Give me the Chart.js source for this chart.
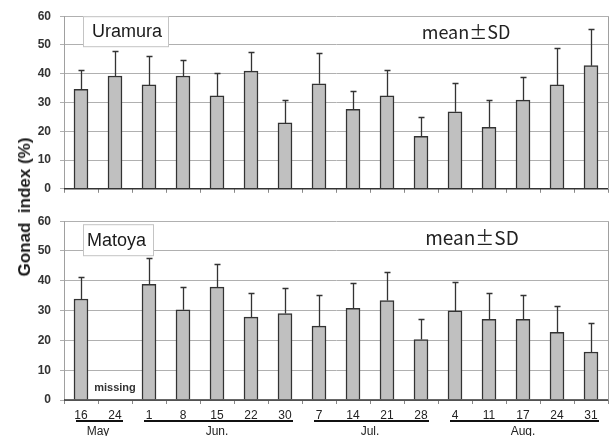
<!DOCTYPE html>
<html><head><meta charset="utf-8">
<script src="https://cdn.jsdelivr.net/npm/chart.js@4.4.1/dist/chart.umd.min.js"></script>
<style>
html,body{margin:0;padding:0;background:#fff;}
#wrap{position:relative;width:614px;height:436px;overflow:hidden;background:#fff;}
.cv{position:absolute;left:0;}
#ytitle{position:absolute;left:25px;top:207px;transform:translate(-50%,-50%) rotate(-90deg);font:bold 17px "Liberation Sans",Arial,sans-serif;white-space:pre;color:#1a1a1a;}
</style></head><body>
<div id="wrap">
<canvas id="c1" class="cv" style="top:0" width="614" height="205"></canvas>
<canvas id="c2" class="cv" style="top:205px" width="614" height="231"></canvas>
<div id="ytitle">Gonad  index (%)</div>
</div>
<script>
// ---- data ----
const categories = ['16','24','1','8','15','22','30','7','14','21','28','4','11','17','24','31'];
const months = ['May','Jun.','Jul.','Aug.'];
const monthFirst = [0, 2, 7, 11];
const monthLast  = [1, 6, 10, 15];
const yTicks = [0, 10, 20, 30, 40, 50, 60];
const uramuraMean = [34.6, 39.2, 36.1, 39.2, 32.3, 40.9, 22.9, 36.5, 27.6, 32.3, 18.2, 26.8, 21.4, 30.8, 36.1, 42.8];
const uramuraSD   = [6.6, 8.8, 10.2, 5.5, 8.0, 6.7, 7.9, 10.8, 6.4, 9.0, 6.8, 9.9, 9.4, 8.2, 12.9, 12.7];
const matoyaMean  = [33.9, null, 38.8, 30.3, 37.9, 27.8, 29.0, 24.8, 30.8, 33.4, 20.3, 29.9, 27.1, 27.1, 22.7, 16.1];
const matoyaSD    = [7.4, null, 8.9, 7.5, 7.8, 8.0, 8.6, 10.3, 8.4, 9.4, 6.9, 9.8, 8.9, 8.1, 8.7, 9.7];
const siteNames = ['Uramura', 'Matoya'];
const noteText = 'mean\u00B1SD';
const missingText = 'missing';
const missingIndex = 1;

const FONT = '"Liberation Sans", Arial, sans-serif';

const annotPlugin = {
  id: 'annot',
  afterDatasetsDraw(chart) {
    const o = chart.options.plugins.annot;
    const ctx = chart.ctx;
    const ca = chart.chartArea;
    const ys = chart.scales.y, xs = chart.scales.x;
    const ds = chart.data.datasets[0];
    const meta = chart.getDatasetMeta(0);
    ctx.save();
    // error bars
    ctx.strokeStyle = '#333';
    ctx.lineWidth = 1.3;
    meta.data.forEach((bar, i) => {
      const m = ds.data[i], s = ds.sd[i];
      if (m == null || s == null) return;
      const yt = Math.round(ys.getPixelForValue(m + s)) + 0.5;
      const x = Math.round(bar.x) + 0.5;
      ctx.beginPath();
      ctx.moveTo(x, bar.y);
      ctx.lineTo(x, yt);
      ctx.moveTo(x - 3, yt);
      ctx.lineTo(x + 3, yt);
      ctx.stroke();
    });
    // right frame
    ctx.strokeStyle = '#a0a0a0';
    ctx.lineWidth = 1;
    ctx.beginPath();
    ctx.moveTo(Math.round(ca.right) + 0.5, ca.top);
    ctx.lineTo(Math.round(ca.right) + 0.5, ca.bottom);
    ctx.stroke();
    // x axis line
    ctx.strokeStyle = '#333';
    ctx.lineWidth = 1.5;
    ctx.beginPath();
    ctx.moveTo(ca.left, ca.bottom);
    ctx.lineTo(ca.right, ca.bottom);
    ctx.stroke();
    // site label box
    const b = o.box;
    ctx.fillStyle = '#fff';
    ctx.fillRect(ca.left + b.dx, ca.top + b.dy, b.w, b.h);
    ctx.strokeStyle = '#c4c4c4';
    ctx.lineWidth = 1;
    ctx.strokeRect(ca.left + b.dx + 0.5, ca.top + b.dy + 0.5, b.w, b.h);
    ctx.fillStyle = '#1a1a1a';
    ctx.font = b.size + 'px ' + FONT;
    ctx.textBaseline = 'middle';
    ctx.textAlign = 'left';
    ctx.fillText(o.name, ca.left + b.dx + b.tx, ca.top + b.dy + b.h / 2 + 1);
    // mean ± SD
    ctx.font = o.noteSize + 'px "Noto Sans CJK JP", ' + FONT;
    ctx.textAlign = 'center';
    ctx.fillStyle = '#222';
    ctx.fillText(noteText, o.noteX, ca.top + o.noteDy);
    // missing
    if (o.missing) {
      ctx.font = 'bold 11px ' + FONT;
      ctx.fillStyle = '#333';
      ctx.textAlign = 'center';
      ctx.fillText(missingText, xs.getPixelForValue(missingIndex), ca.bottom - 12);
    }
    // months
    if (o.months) {
      ctx.strokeStyle = '#111';
      ctx.lineWidth = 2;
      ctx.fillStyle = '#222';
      ctx.font = '12px ' + FONT;
      ctx.textAlign = 'center';
      months.forEach((mn, k) => {
        const x0 = xs.getPixelForValue(monthFirst[k]) - 5;
        const x1 = xs.getPixelForValue(monthLast[k]) + 8;
        ctx.beginPath();
        ctx.moveTo(x0, ca.bottom + 21);
        ctx.lineTo(x1, ca.bottom + 21);
        ctx.stroke();
        ctx.fillText(mn, (xs.getPixelForValue(monthFirst[k]) + xs.getPixelForValue(monthLast[k])) / 2, ca.bottom + 32);
      });
    }
    ctx.restore();
  }
};

function makeChart(id, means, sds, cfg) {
  return new Chart(document.getElementById(id), {
    type: 'bar',
    data: {
      labels: categories,
      datasets: [{
        data: means, sd: sds,
        backgroundColor: '#c0c0c0', borderColor: '#333', borderWidth: 1.5,
        barThickness: 14
      }]
    },
    plugins: [annotPlugin],
    options: {
      responsive: false, animation: false,
      layout: { padding: { top: cfg.padTop, right: 6, left: 0, bottom: 0 } },
      plugins: { legend: { display: false }, tooltip: { enabled: false }, annot: cfg.annot },
      scales: {
        x: {
          offset: true,
          grid: { offset: true, drawOnChartArea: false, drawTicks: true, tickLength: 4, color: '#888' },
          border: { display: false },
          ticks: { display: cfg.showX, color: '#222', font: { size: 12, family: FONT }, padding: 4, maxRotation: 0, autoSkip: false },
          afterFit: s => { s.height = cfg.xHeight; }
        },
        y: {
          min: 0, max: 60,
          afterBuildTicks: s => { s.ticks = yTicks.map(v => ({ value: v })); },
          ticks: { color: '#333', font: { size: 12, weight: 'bold', family: FONT }, padding: 9 },
          grid: { color: '#b0b0b0', tickLength: 4, lineWidth: 1 },
          border: { color: '#a0a0a0' },
          afterFit: s => { s.width = 64; }
        }
      }
    }
  });
}

makeChart('c1', uramuraMean, uramuraSD, {
  padTop: 14, xHeight: 10, showX: false,
  annot: { name: siteNames[0], box: { dx: 19, dy: 0, w: 85, h: 30, tx: 9, size: 18 }, noteX: 466, noteDy: 16, noteSize: 18, missing: false, months: false }
});
makeChart('c2', matoyaMean, matoyaSD, {
  padTop: 15, xHeight: 36, showX: true,
  annot: { name: siteNames[1], box: { dx: 19, dy: 3, w: 70, h: 31, tx: 4, size: 18 }, noteX: 472, noteDy: 17, noteSize: 19, missing: true, months: true }
});
</script>
</body></html>
